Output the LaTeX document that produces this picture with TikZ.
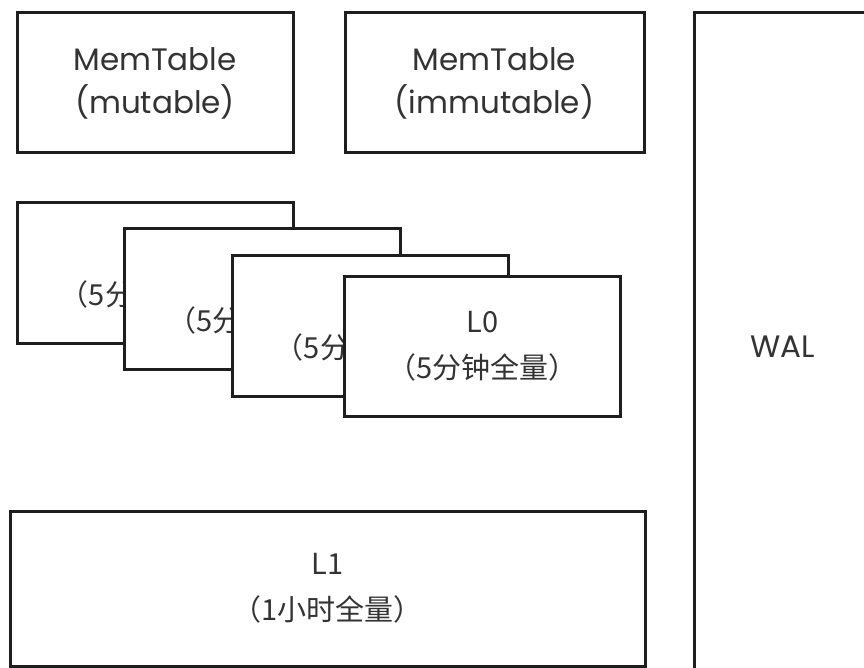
\documentclass[tikz,border=0pt]{standalone}
\usepackage{fontspec}
\setmainfont{Poppins}
\newfontfamily\cjk{Noto Sans CJK SC}
\definecolor{edge}{HTML}{1E1E1E}
\definecolor{txt}{HTML}{333333}
\tikzset{
  box/.style={draw=edge, line width=3pt, fill=white, inner sep=0pt, align=center, text=txt},
  lat/.style={font=\fontsize{31}{43}\selectfont},
  zh/.style={font=\cjk\fontsize{29}{46}\selectfont},
}
\begin{document}
\begin{tikzpicture}[x=1pt,y=-1pt]
\clip (0,0) rectangle (864,668);
\fill[white] (0,0) rectangle (864,668);
\node[box,lat,minimum width=276pt,minimum height=140pt] (mut) at (155,83) {MemTable\\(mutable)};
\node[box,lat,minimum width=299pt,minimum height=140pt] (imm) at (494.5,83) {MemTable\\(immutable)};
\node[box,lat,minimum width=178pt,minimum height=667pt] (wal) at (783,346.5) {WAL};
\node[box,zh,minimum width=276pt,minimum height=140pt] (l0a) at (155,273) {L0\\（5分钟全量）};
\node[box,zh,minimum width=276pt,minimum height=140pt] (l0b) at (262.5,299) {L0\\（5分钟全量）};
\node[box,zh,minimum width=276pt,minimum height=140pt] (l0c) at (370,326) {L0\\（5分钟全量）};
\node[box,zh,minimum width=276pt,minimum height=140pt] (l0d) at (482.5,346.5) {L0\\（5分钟全量）};
\node[box,zh,minimum width=635pt,minimum height=155pt] (l1) at (327.5,588.5) {L1\\（1小时全量）};
\end{tikzpicture}
\end{document}
